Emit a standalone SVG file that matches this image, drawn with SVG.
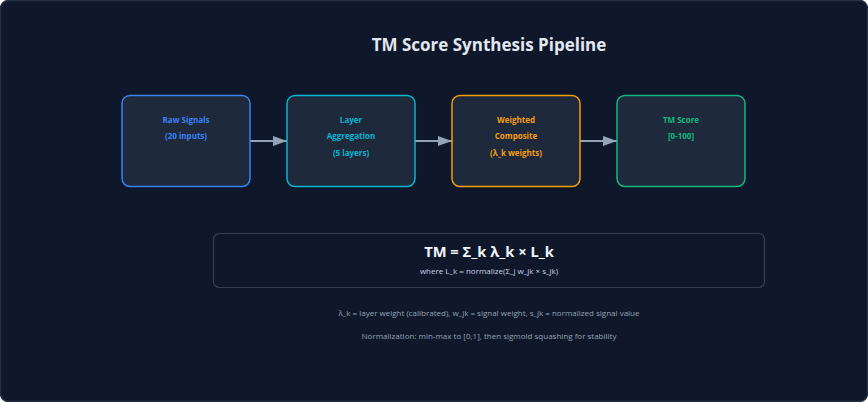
<svg xmlns="http://www.w3.org/2000/svg" width="868" height="402" viewBox="0 0 868 402">
<defs>
<style>
.node{fill:#1e293b;stroke-width:1.5}
.nt{font-family:"Open Sans","Liberation Sans",sans-serif;font-size:8px;font-weight:bold;text-anchor:middle}
.conn{stroke:#94a3b8;stroke-width:2;fill:none}
.note{font-family:"Open Sans","Liberation Sans",sans-serif;font-size:8px;fill:#94a3b8;text-anchor:middle}
</style>
<marker id="ah" markerWidth="14" markerHeight="10" refX="14" refY="5" orient="auto" markerUnits="userSpaceOnUse">
<path d="M0,0 L14,5 L0,10 Z" fill="#94a3b8"/>
</marker>
</defs>
<rect x="0.5" y="0.5" width="867" height="401" rx="8" fill="#0f172a" stroke="#263244" stroke-width="1.5"/>
<text x="489" y="51" font-family="'Open Sans','Liberation Sans',sans-serif" font-size="17" font-weight="bold" fill="#e2e8f0" text-anchor="middle">TM Score Synthesis Pipeline</text>
<g id="connectors">
<line class="conn" x1="250" y1="141" x2="287" y2="141" marker-end="url(#ah)"/>
<line class="conn" x1="415" y1="141" x2="452" y2="141" marker-end="url(#ah)"/>
<line class="conn" x1="580" y1="141" x2="617" y2="141" marker-end="url(#ah)"/>
</g>
<g id="raw-signals">
<rect class="node" x="122" y="95.5" width="128" height="91" rx="8" stroke="#3b82f6"/>
<text class="nt" fill="#3b82f6"><tspan x="186" y="123">Raw Signals</tspan><tspan x="186" y="139">(20 inputs)</tspan></text>
</g>
<g id="layer-aggregation">
<rect class="node" x="287" y="95.5" width="128" height="91" rx="8" stroke="#06b6d4"/>
<text class="nt" fill="#06b6d4"><tspan x="351" y="123">Layer</tspan><tspan x="351" y="139">Aggregation</tspan><tspan x="351" y="156">(5 layers)</tspan></text>
</g>
<g id="weighted-composite">
<rect class="node" x="452" y="95.5" width="128" height="91" rx="8" stroke="#f59e0b"/>
<text class="nt" fill="#f59e0b"><tspan x="516" y="123">Weighted</tspan><tspan x="516" y="139">Composite</tspan><tspan x="516" y="156">(λ_k weights)</tspan></text>
</g>
<g id="tm-score">
<rect class="node" x="617" y="95.5" width="128" height="91" rx="8" stroke="#10b981"/>
<text class="nt" fill="#10b981"><tspan x="681" y="123">TM Score</tspan><tspan x="681" y="139">[0-100]</tspan></text>
</g>
<g id="formula">
<rect x="213.5" y="233.5" width="551" height="54" rx="6" fill="#0f172a" stroke="#334155" stroke-width="1.2"/>
<text x="489" y="257" font-family="'Open Sans','Liberation Sans',sans-serif" font-size="14.7" font-weight="bold" fill="#f1f5f9" text-anchor="middle">TM = Σ_k λ_k × L_k</text>
<text x="489" y="274" font-family="'Open Sans','Liberation Sans',sans-serif" font-size="8" fill="#cbd5e1" text-anchor="middle">where L_k = normalize(Σ_j w_jk × s_jk)</text>
</g>
<text class="note" x="489" y="316">λ_k = layer weight (calibrated), w_jk = signal weight, s_jk = normalized signal value</text>
<text class="note" x="489" y="339">Normalization: min-max to [0,1], then sigmoid squashing for stability</text>
</svg>
